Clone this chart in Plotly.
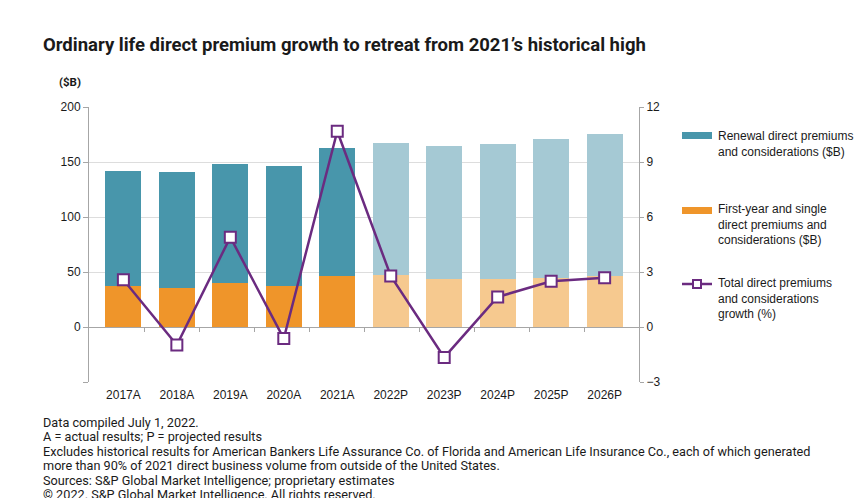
import plotly.graph_objects as go

categories = ["2017A", "2018A", "2019A", "2020A", "2021A", "2022P", "2023P", "2024P", "2025P", "2026P"]
first_year = [37.7, 35.5, 40.0, 37.0, 46.4, 47.6, 43.7, 43.4, 44.6, 46.7]
renewal = [104.5, 105.5, 107.9, 109.7, 116.3, 119.9, 121.1, 123.2, 126.5, 128.9]
growth = [2.58, -0.98, 4.90, -0.63, 10.68, 2.78, -1.66, 1.64, 2.49, 2.69]
projected = [False, False, False, False, False, True, True, True, True, True]

left_ticks = [-50, 0, 50, 100, 150, 200]
left_labels = ["", "0", "50", "100", "150", "200"]
right_ticks = [-3, 0, 3, 6, 9, 12]

legend_labels = [
    "Renewal direct premiums<br>and considerations ($B)",
    "First-year and single<br>direct premiums and<br>considerations ($B)",
    "Total direct premiums<br>and considerations<br>growth (%)",
]
footnotes = [
    "Data compiled July 1, 2022.",
    "A = actual results; P = projected results",
    "Excludes historical results for American Bankers Life Assurance Co. of Florida and American Life Insurance Co., each of which generated",
    "more than 90% of 2021 direct business volume from outside of the United States.",
    "Sources: S&P Global Market Intelligence; proprietary estimates",
    "\u00a9 2022. S&P Global Market Intelligence. All rights reserved.",
]
title = "Ordinary life direct premium growth to retreat from 2021\u2019s historical high"

TEAL, TEAL_L = "#4896AB", "#A5C9D4"
ORANGE, ORANGE_L = "#EF952A", "#F6C98F"
PURPLE = "#6B2B80"
AXIS = "#A6A6A6"
GRID = "#DDDDDD"
TXT = "#1a1a1a"

W, H = 862, 498
L, R, T, B = 89, 639, 107, 382


def px(x):
    return (x - L) / (R - L)


def py(y):
    return (B - y) / (B - T)


fig = go.Figure()
fig.add_trace(go.Bar(
    x=categories, y=first_year, name="First-year",
    marker=dict(color=[ORANGE_L if p else ORANGE for p in projected], line=dict(width=0)),
    showlegend=False, hoverinfo="x+y",
))
fig.add_trace(go.Bar(
    x=categories, y=renewal, name="Renewal",
    marker=dict(color=[TEAL_L if p else TEAL for p in projected], line=dict(width=0)),
    showlegend=False, hoverinfo="x+y",
))
fig.add_trace(go.Scatter(
    x=categories, y=growth, yaxis="y2", mode="lines+markers",
    line=dict(color=PURPLE, width=2.5),
    marker=dict(symbol="square", size=11, color="white", line=dict(color=PURPLE, width=2)),
    showlegend=False, cliponaxis=False,
))
# helper trace so the zero-line tick axis renders
fig.add_trace(go.Scatter(x=[None], y=[None], xaxis="x2", yaxis="y", showlegend=False, hoverinfo="skip"))

fig.update_layout(
    width=W, height=H,
    margin=dict(l=L, r=W - R, t=T, b=H - B, pad=0),
    paper_bgcolor="white", plot_bgcolor="white",
    barmode="stack", bargap=0.33,
    font=dict(family="Liberation Sans, Arial, sans-serif", size=12, color=TXT),
    xaxis=dict(type="category", showgrid=False, showline=False, ticks="", zeroline=False,
               tickfont=dict(size=12, color=TXT), ticklabelstandoff=4),
    xaxis2=dict(overlaying="x", anchor="free", position=0.2, range=[-0.5, 9.5],
                tickvals=[0.5, 1.5, 2.5, 3.5, 4.5, 5.5, 6.5, 7.5, 8.5],
                ticks="outside", ticklen=4, tickcolor=AXIS, showticklabels=False,
                showgrid=False, showline=False, zeroline=False, side="bottom"),
    yaxis=dict(range=[-50, 200], tickvals=left_ticks, ticktext=left_labels,
               ticks="outside", ticklen=5, tickcolor=AXIS, showline=True, linecolor=AXIS,
               showgrid=True, gridcolor=GRID, zeroline=True, zerolinecolor=AXIS, zerolinewidth=1,
               tickfont=dict(size=12, color=TXT)),
    yaxis2=dict(range=[-3, 12], tickvals=right_ticks, overlaying="y", side="right",
                ticks="outside", ticklen=4, tickcolor=AXIS, showline=True, linecolor=AXIS,
                showgrid=False, zeroline=False, tickfont=dict(size=12, color=TXT)),
)

ann = []
ann.append(dict(text=title, x=px(41), y=py(45), xref="paper", yref="paper",
                xanchor="left", yanchor="middle", showarrow=False,
                font=dict(family="Roboto, sans-serif", size=18.5, weight=700, color=TXT)))
ann.append(dict(text="($B)", x=px(57), y=py(82), xref="paper", yref="paper",
                xanchor="left", yanchor="middle", showarrow=False,
                font=dict(family="Roboto, sans-serif", size=11.5, weight=700, color=TXT)))
foot_y = [422, 436.5, 451, 465.5, 480, 494]
for t, yy in zip(footnotes, foot_y):
    ann.append(dict(text=t, x=px(41), y=py(yy), xref="paper", yref="paper",
                    xanchor="left", yanchor="middle", showarrow=False,
                    font=dict(family="Roboto, sans-serif", size=12.7, color=TXT)))
# legend text
leg_y = [144, 224, 298]
for t, yy in zip(legend_labels, leg_y):
    ann.append(dict(text=t, x=px(716), y=py(yy), xref="paper", yref="paper",
                    xanchor="left", yanchor="middle", align="left", showarrow=False,
                    font=dict(size=12, color=TXT)))
fig.update_layout(annotations=ann)

shapes = [
    dict(type="rect", xref="paper", yref="paper", x0=px(682), x1=px(712), y0=py(139), y1=py(132),
         fillcolor=TEAL, line=dict(width=0)),
    dict(type="rect", xref="paper", yref="paper", x0=px(682), x1=px(712), y0=py(214), y1=py(207),
         fillcolor=ORANGE, line=dict(width=0)),
    dict(type="line", xref="paper", yref="paper", x0=px(682), x1=px(712), y0=py(284), y1=py(284),
         line=dict(color=PURPLE, width=2.5)),
    dict(type="rect", xref="paper", yref="paper", x0=px(693), x1=px(701), y0=py(288), y1=py(280),
         fillcolor="white", line=dict(color=PURPLE, width=2)),
]
fig.update_layout(shapes=shapes)

fig.write_html("out.html")
